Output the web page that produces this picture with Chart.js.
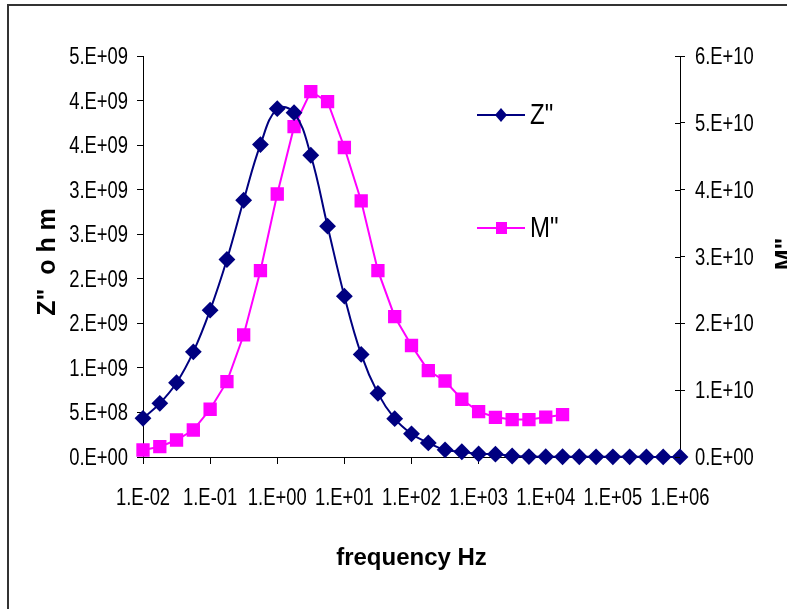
<!DOCTYPE html>
<html>
<head>
<meta charset="utf-8">
<script src="https://cdn.jsdelivr.net/npm/chart.js@4.4.0/dist/chart.umd.min.js"></script>
<style>
  body { margin: 0; background: #fff; }
  canvas { display: block; }
</style>
</head>
<body>
<canvas id="impedanceChart" width="787" height="609"></canvas>
<script>
// frequency in Hz, quarter-decade steps
const frequency = [0.01, 0.0178, 0.0316, 0.0562, 0.1, 0.178, 0.316, 0.562,
    1, 1.78, 3.16, 5.62, 10, 17.8, 31.6, 56.2, 100, 178, 316, 562,
    1000, 1780, 3160, 5620, 10000, 17800, 31600, 56200,
    100000, 178000, 316000, 562000, 1000000];

// Z'' (ohm), left axis
const zImag = [4.34e8, 6.02e8, 8.33e8, 1.18e9, 1.648e9, 2.216e9, 2.881e9, 3.506e9,
    3.909e9, 3.864e9, 3.386e9, 2.59e9, 1.805e9, 1.151e9, 7.14e8, 4.3e8,
    2.6e8, 1.58e8, 8.0e7, 5.9e7, 3.5e7, 3.2e7, 1.1e7, 5e6,
    4e6, 3e6, 3e6, 2e6, 2e6, 2e6, 1e6, 1e6, 1e6];

// M'', right axis (measured only up to ~1.8E+04 Hz)
const mImag = [1.05e9, 1.54e9, 2.54e9, 4.04e9, 7.14e9, 1.127e10, 1.826e10, 2.788e10,
    3.935e10, 4.942e10, 5.466e10, 5.317e10, 4.631e10, 3.831e10, 2.788e10, 2.099e10,
    1.668e10, 1.292e10, 1.137e10, 8.64e9, 6.78e9, 5.94e9, 5.6e9, 5.6e9,
    5.96e9, 6.33e9];

const xTicks = [1e-2, 1e-1, 1, 1e1, 1e2, 1e3, 1e4, 1e5, 1e6];
const zTicks = [0, 5e8, 1e9, 1.5e9, 2e9, 2.5e9, 3e9, 3.5e9, 4e9, 4.5e9];
const mTicks = [0, 1e10, 2e10, 3e10, 4e10, 5e10, 6e10];

const fontFamily = '"Liberation Sans", Arial, sans-serif';
const squeeze = 0.8; // the original uses a narrow face

// Excel style "0.E+00"
function excelExp(v) {
    const parts = Number(v).toExponential(0).split('e');
    const e = parseInt(parts[1], 10);
    return parts[0] + '.E' + (e < 0 ? '-' : '+') + String(Math.abs(e)).padStart(2, '0');
}

function narrowText(ctx, text, x, y, align) {
    ctx.save();
    ctx.translate(x, y);
    ctx.scale(squeeze, 1);
    ctx.textAlign = align;
    ctx.fillText(text, 0, 0);
    ctx.restore();
}

const extras = {
    id: 'extras',
    afterDraw(chart) {
        const ctx = chart.ctx;
        const { x, yZ, yM } = chart.scales;
        ctx.save();

        // chart frame
        ctx.strokeStyle = '#333';
        ctx.lineWidth = 2;
        ctx.beginPath();
        ctx.moveTo(8, 609);
        ctx.lineTo(8, 5);
        ctx.lineTo(787, 5);
        ctx.stroke();

        // right axis ticks cross the axis line
        ctx.strokeStyle = '#000';
        ctx.lineWidth = 1;
        yM.ticks.forEach(t => {
            const py = Math.round(yM.getPixelForValue(t.value)) + 0.5;
            ctx.beginPath();
            ctx.moveTo(yM.left - 5, py);
            ctx.lineTo(yM.left, py);
            ctx.stroke();
        });

        // tick labels
        ctx.fillStyle = '#000';
        ctx.textBaseline = 'alphabetic';
        ctx.font = '23px ' + fontFamily;
        x.ticks.forEach(t => {
            narrowText(ctx, excelExp(t.value), x.getPixelForValue(t.value), 505, 'center');
        });
        yZ.ticks.forEach(t => {
            narrowText(ctx, excelExp(t.value), 128, yZ.getPixelForValue(t.value) + 8, 'right');
        });
        yM.ticks.forEach(t => {
            narrowText(ctx, excelExp(t.value), 695, yM.getPixelForValue(t.value) + 8, 'left');
        });

        // axis titles
        ctx.textAlign = 'center';
        ctx.font = 'bold 24px ' + fontFamily;
        ctx.fillText('frequency Hz', (chart.chartArea.left + chart.chartArea.right) / 2, 565);

        ctx.save();
        ctx.translate(55, 262);
        ctx.rotate(-Math.PI / 2);
        ctx.font = 'bold 25px ' + fontFamily;
        ctx.fillText('Z"  o h m', 0, 0);
        ctx.restore();

        ctx.save();
        ctx.translate(793, 254);
        ctx.rotate(-Math.PI / 2);
        ctx.font = 'bold 25px ' + fontFamily;
        ctx.fillText('M"', 0, 0);
        ctx.restore();

        // legend
        const legendY = [115, 228];
        chart.data.datasets.forEach((ds, i) => {
            const y = legendY[i];
            ctx.strokeStyle = ds.borderColor;
            ctx.lineWidth = 2;
            ctx.beginPath();
            ctx.moveTo(477, y);
            ctx.lineTo(525, y);
            ctx.stroke();
            ctx.fillStyle = ds.backgroundColor;
            if (ds.pointStyle === 'rectRot') {
                ctx.beginPath();
                ctx.moveTo(501, y - 7);
                ctx.lineTo(507, y);
                ctx.lineTo(501, y + 7);
                ctx.lineTo(495, y);
                ctx.closePath();
                ctx.fill();
            } else {
                ctx.fillRect(496, y - 6, 11, 12);
            }
            ctx.fillStyle = '#000';
            ctx.font = '30px ' + fontFamily;
            narrowText(ctx, ds.label, 530, y + 9, 'left');
        });

        ctx.restore();
    }
};

new Chart(document.getElementById('impedanceChart'), {
    type: 'line',
    data: {
        datasets: [{
            label: 'Z"',
            data: frequency.map((f, i) => ({ x: f, y: zImag[i] })),
            yAxisID: 'yZ',
            borderColor: '#000080',
            backgroundColor: '#000080',
            borderWidth: 2,
            pointStyle: 'rectRot',
            pointRadius: 7,
            pointHoverRadius: 7,
            tension: 0.4,
            clip: false
        }, {
            label: 'M"',
            data: mImag.map((v, i) => ({ x: frequency[i], y: v })),
            yAxisID: 'yM',
            borderColor: '#ff00ff',
            backgroundColor: '#ff00ff',
            borderWidth: 2,
            pointStyle: 'rect',
            pointRadius: 8,
            pointHoverRadius: 8,
            tension: 0,
            clip: false
        }]
    },
    options: {
        responsive: false,
        animation: false,
        events: [],
        layout: { padding: { top: 56, left: 0, right: 0, bottom: 0 } },
        plugins: {
            legend: { display: false },
            tooltip: { enabled: false }
        },
        scales: {
            x: {
                type: 'logarithmic',
                position: 'bottom',
                min: 0.01,
                max: 1e6,
                afterBuildTicks: s => { s.ticks = xTicks.map(v => ({ value: v })); },
                afterFit: s => { s.height = 152; },
                grid: { drawOnChartArea: false, tickLength: 7, color: '#000' },
                border: { color: '#000', width: 1 },
                ticks: { display: false, autoSkip: false, maxRotation: 0 }
            },
            yZ: {
                type: 'linear',
                position: 'left',
                min: 0,
                max: 4.5e9,
                afterBuildTicks: s => { s.ticks = zTicks.map(v => ({ value: v })); },
                afterFit: s => { s.width = 143; },
                grid: { drawOnChartArea: false, tickLength: 6, color: '#000' },
                border: { color: '#000', width: 1 },
                ticks: { display: false }
            },
            yM: {
                type: 'linear',
                position: 'right',
                min: 0,
                max: 6e10,
                afterBuildTicks: s => { s.ticks = mTicks.map(v => ({ value: v })); },
                afterFit: s => { s.width = 107; },
                grid: { drawOnChartArea: false, tickLength: 5, color: '#000' },
                border: { color: '#000', width: 1 },
                ticks: { display: false }
            }
        }
    },
    plugins: [extras]
});
</script>
</body>
</html>
